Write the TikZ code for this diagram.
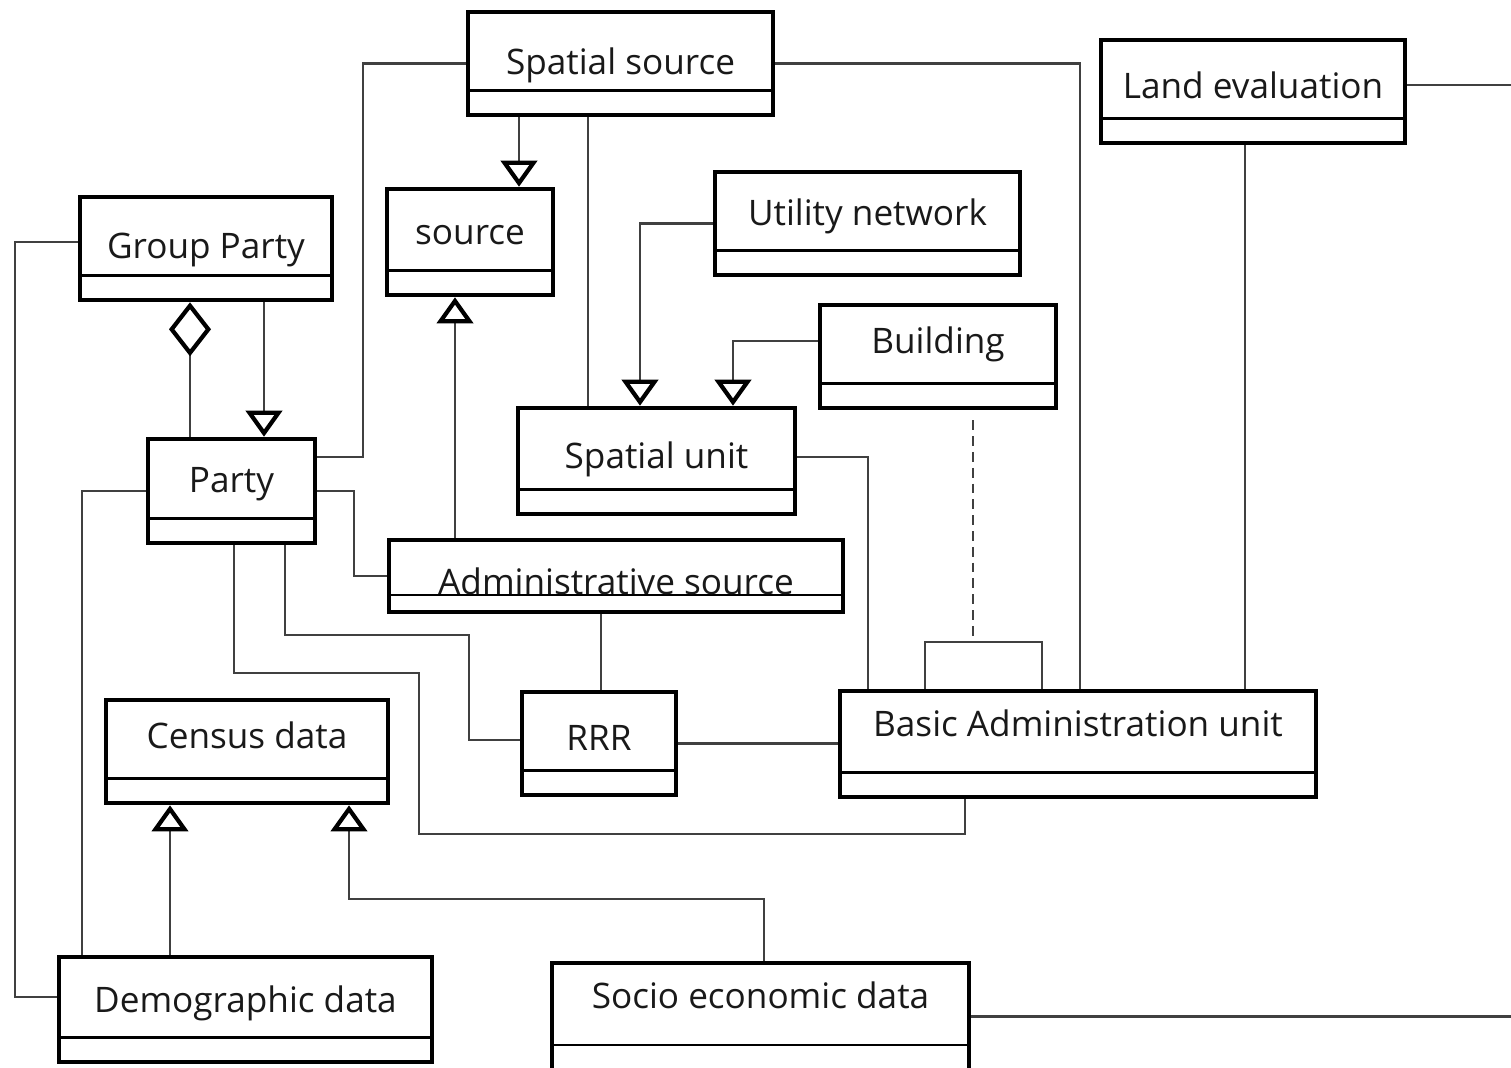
\documentclass[tikz,border=0pt]{standalone}
\usepackage{fontspec}
\setmainfont{Open Sans}
\usetikzlibrary{arrows.meta}

\tikzset{
    classbox/.style={draw, line width=1.3pt, rectangle, inner sep=0pt, fill=white,
        path picture={\draw[line width=0.6pt] ([yshift=#1]path picture bounding box.south west) -- ([yshift=#1]path picture bounding box.south east);}},
    classbox/.default=0.245cm,
    every label/.style={text height=1.33ex, text depth=0pt, inner sep=0pt, text=black!90},
    link/.style={draw=black!75, line width=0.6pt},
    gen/.style={link, -{Triangle[open, length=0.26cm, width=0.36cm, line width=1.2pt, color=black]}},
    agg/.style={link, -{Diamond[open, length=0.54cm, width=0.42cm, line width=1.2pt, color=black]}}
}

\begin{document}
\begin{tikzpicture}
        \useasboundingbox (0,0) rectangle (15.11,-10.67);
        \coordinate (rim) at (15.11,0);

        % class boxes: name compartment on top, empty attribute strip below
        \node [classbox, minimum width=3.05cm, minimum height=1.03cm, label={[yshift=0.15mm]center:Spatial source}] (sps) at (6.205,-0.635) {};
        \node [classbox, minimum width=3.04cm, minimum height=1.03cm, label={[yshift=0.6mm]center:Land evaluation}] (land) at (12.53,-0.915) {};
        \node [classbox, minimum width=2.52cm, minimum height=1.03cm, label={[yshift=0.3mm]center:Group Party}] (group) at (2.06,-2.485) {};
        \node [classbox, minimum width=1.66cm, minimum height=1.06cm, label={[yshift=1mm]center:source}] (src) at (4.70,-2.42) {};
        \node [classbox, minimum width=3.05cm, minimum height=1.03cm, label={[yshift=1.1mm]center:Utility network}] (util) at (8.675,-2.235) {};
        \node [classbox, minimum width=2.36cm, minimum height=1.03cm, label={[yshift=1.6mm]center:Building}] (bldg) at (9.38,-3.565) {};
        \node [classbox, minimum width=1.67cm, minimum height=1.04cm, label={[yshift=1.1mm]center:Party}] (party) at (2.315,-4.91) {};
        \node [classbox, minimum width=2.77cm, minimum height=1.06cm, label={[yshift=0.5mm]center:Spatial unit}] (sunit) at (6.565,-4.61) {};
        \node [classbox=0.17cm, minimum width=4.54cm, minimum height=0.72cm, label={[yshift=-0.6mm]center:Administrative source}] (admsrc) at (6.16,-5.76) {};
        \node [classbox, minimum width=1.54cm, minimum height=1.03cm, label={[yshift=0.6mm]center:RRR}] (rrr) at (5.99,-7.435) {};
        \node [classbox, minimum width=4.76cm, minimum height=1.06cm, label={[yshift=2mm]center:Basic Administration unit}] (bau) at (10.78,-7.44) {};
        \node [classbox, minimum width=2.82cm, minimum height=1.03cm, label={[yshift=1.6mm]center:Census data}] (census) at (2.47,-7.515) {};
        \node [classbox, minimum width=3.73cm, minimum height=1.05cm, label={[yshift=1mm]center:Demographic data}] (demo) at (2.455,-10.095) {};
        \node [classbox=0.25cm, minimum width=4.17cm, minimum height=1.07cm, label={[yshift=2.1mm]center:Socio economic data}] (socio) at (7.605,-10.165) {};

        % plain associations
        \draw[link] (sps.west) -- ++(-1.03,0) |- ([yshift=3.4mm]party.east);
        \draw[link] (sps.east) -| ([xshift=0.2mm]bau.north);
        \draw[link] ([xshift=-3.25mm]sps.south) -- ([xshift=-3.25mm]sps.south |- sunit.north);
        \draw[link] ([yshift=0.65mm]land.east) -- ([yshift=0.65mm]land.east -| rim);
        \draw[link] ([xshift=-0.8mm]land.south) -- ([xshift=-0.8mm]land.south |- bau.north);
        \draw[link] ([yshift=0.65mm]group.west) -- ++(-0.63,0) |- ([yshift=1.25mm]demo.west);
        \draw[link] ([yshift=0.4mm]sunit.east) -| ([xshift=-2.1cm]bau.north);
        \draw[link] (party.east) -- ++(0.37,0) |- (admsrc.west);
        \draw[link] (party.west) -| ([xshift=-1.635cm]demo.north);
        \draw[link] ([xshift=5.35mm]party.south) -- ++(0,-0.9) -- ++(1.84,0) |- ([yshift=0.35mm]rrr.west);
        \draw[link] ([xshift=0.25mm]party.south) -- ++(0,-1.28) -- ++(1.85,0) -- ++(0,-1.61) -| ([xshift=-1.13cm]bau.south);
        \draw[link] ([xshift=-1.5mm]admsrc.south) -- ([xshift=-1.5mm]admsrc.south |- rrr.north);
        \draw[link] (rrr.east) -- (rrr.east -| bau.west);
        \draw[link] (socio.east) -- (socio.east -| rim);

        % bracket on top of the basic unit, dashed link up to Building
        \draw[link] ([xshift=-1.53cm]bau.north) |- ([xshift=-0.36cm, yshift=4.7mm]bau.north) coordinate (pair) -- ([xshift=-0.36cm]bau.north);
        \draw[link, dash pattern=on 2.8pt off 1.7pt] ([xshift=3.5mm, yshift=-1mm]bldg.south) -- ([xshift=3.5mm]bldg.south |- pair);

        % generalisations (open triangle on the parent)
        \draw[gen] ([xshift=-1.015cm]sps.south) -- ([xshift=-1.015cm]sps.south |- src.north);
        \draw[gen] ([xshift=-1.5mm]src.south |- admsrc.north) -- ([xshift=-1.5mm]src.south);
        \draw[gen] ([xshift=5.8mm]group.south) -- ([xshift=5.8mm]group.south |- party.north);
        \draw[gen] (util.west) -| ([xshift=-1.65mm]sunit.north);
        \draw[gen] ([yshift=1.55mm]bldg.west) -| ([xshift=7.65mm]sunit.north);
        \draw[gen] ([xshift=-7.7mm]census.south |- demo.north) -- ([xshift=-7.7mm]census.south);
        \draw[gen] ([xshift=0.35mm]socio.north) |- ([xshift=1.02cm, yshift=-0.94cm]census.south) -- ([xshift=1.02cm]census.south);

        % aggregation: Group Party is made of parties
        \draw[agg] ([xshift=-1.6mm]group.south |- party.north) -- ([xshift=-1.6mm]group.south);

\end{tikzpicture}
\end{document}
